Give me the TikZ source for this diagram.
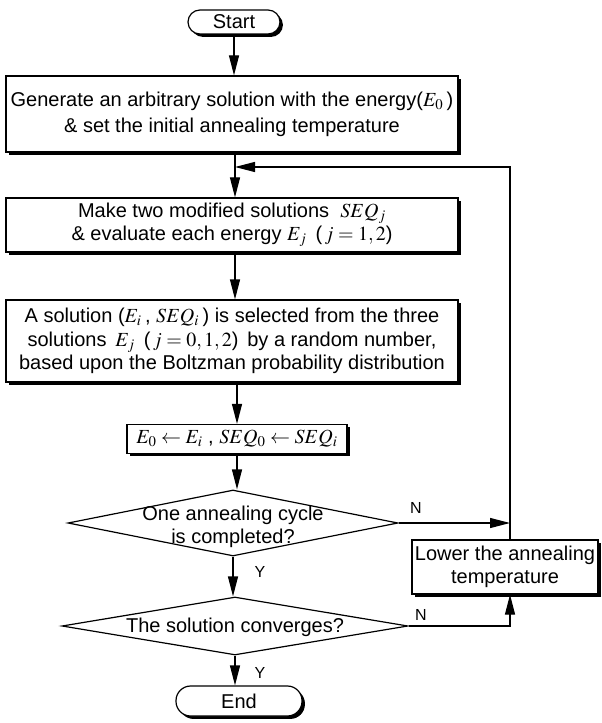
\documentclass[tikz,border=0pt]{standalone}
\usepackage{mathptmx}
\usepackage{fontspec}
\setmainfont{Liberation Sans}
\usetikzlibrary{shapes.geometric,shadows,arrows.meta}

\tikzset{every picture/.style={line width=0.9pt}}

\begin{document}
\begin{tikzpicture}[x=0.75pt,y=-0.75pt,
  font=\fontsize{15}{17.5}\selectfont,
  proc/.style={draw,fill=white,rectangle,inner sep=0pt,align=center,
    drop shadow={shadow xshift=2.2pt,shadow yshift=-2.2pt,fill=black,opacity=1}},
  term/.style={proc,rounded corners=9pt},
  decision/.style={draw,diamond,inner sep=0pt},
  arr/.style={-{Triangle[length=15pt,width=7.5pt]}},
  lbl/.style={font=\fontsize{12}{14}\selectfont}]
\useasboundingbox (0,0) rectangle (601,723);
\node[term,minimum width=69pt,minimum height=18pt] (start) at (234,22) {Start};
\node[proc,minimum width=339pt,minimum height=57pt,font=\fontsize{15}{19.5}\selectfont] (gen) at (232,114)
  {Generate an arbitrary solution with the energy($E_0$\,)\\ \& set the initial annealing temperature};
\coordinate (merge) at (235,167);
\coordinate (corner) at (510,167);
\node[proc,minimum width=339pt,minimum height=40.5pt] (mod) at (232,225)
  {Make two modified solutions \ $SEQ_j$\\ \& evaluate each energy $E_j$ \,($\,j=1,2$)};
\node[proc,minimum width=339pt,minimum height=61.5pt] (sel) at (232,341)
  {A solution ($E_i$\,, $SEQ_i$\,) is selected from the three\\
   solutions \,$E_j$ \,($\,j=0,1,2$) \,by a random number,\\
   based upon the Boltzman probability distribution};
\node[proc,minimum width=165pt,minimum height=21.75pt] (upd) at (237,439)
  {$E_0\leftarrow E_i$\ , $SEQ_0\leftarrow SEQ_i$};
\node[decision,minimum width=247.5pt,minimum height=49.5pt] (d1) at (233,523) {};
\node[align=center,inner sep=0pt] (t1) at (233,527) {One annealing cycle\\is completed?};
\node[decision,minimum width=259.5pt,minimum height=43.5pt] (d2) at (235,626) {};
\node[inner sep=0pt] (t2) at (235,627) {The solution converges?};
\node[term,minimum width=94.5pt,minimum height=22.5pt,rounded corners=11pt] (end) at (239,701) {End};
\node[proc,minimum width=139.5pt,minimum height=40.5pt] (low) at (505,567)
  {Lower the annealing\\temperature};
\node[lbl] (n1) at (416,508) {N};
\node[lbl] (y1) at (260,572) {Y};
\node[lbl] (n2) at (421,615) {N};
\node[lbl] (y2) at (260,673) {Y};
\draw[arr] (start) -- (start |- gen.north);
\draw (gen.south -| merge) -- (merge);
\draw[arr] (merge) -- (merge |- mod.north);
\draw[arr] (mod.south -| merge) -- (merge |- sel.north);
\draw[arr] (sel.south -| upd) -- (upd);
\draw[arr] (upd) -- (upd |- d1.north);
\draw[arr] (d1.south) -- (d1.south |- d2.north);
\draw[arr] (d2.south) -- (d2.south |- end.north);
\draw[arr] (d1.east) -- (d1.east -| corner);
\draw[arr] (d2.east) -| (corner |- low.south);
\draw[arr] (corner |- low.north) -- (corner) -- (merge);
\end{tikzpicture}
\end{document}
